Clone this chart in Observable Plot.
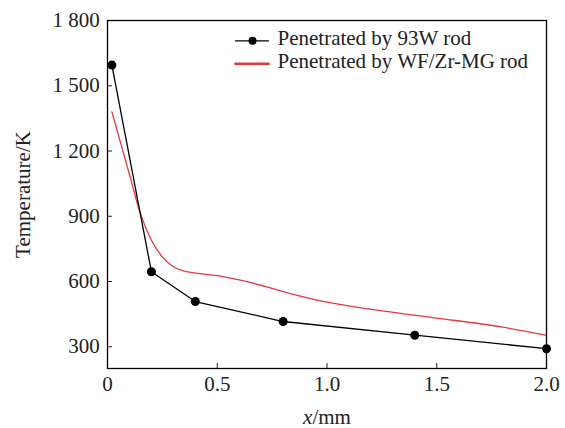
<!DOCTYPE html>
<html>
<head>
<meta charset="utf-8">
<script src="https://cdn.jsdelivr.net/npm/d3@7"></script>
<script src="https://cdn.jsdelivr.net/npm/@observablehq/plot@0.6"></script>
<style>
  html, body { margin: 0; padding: 0; background: #fff; }
  #chart svg { display: block; }
</style>
</head>
<body>
<div id="chart"></div>
<script>
// Series 1: penetrated by 93W rod (measured points)
const w93X = [0.02, 0.2, 0.4, 0.8, 1.4, 2.0];
const w93Y = [1595, 645, 508, 416, 353, 291];

// Series 2: penetrated by WF/Zr-MG rod (smooth curve)
const wfX = [0.02, 0.06, 0.1, 0.15, 0.2, 0.25, 0.3, 0.35, 0.4, 0.5, 0.6, 0.73, 0.8, 1.0, 1.26, 1.5, 1.8, 2.0];
const wfY = [1380, 1236, 1092, 912, 790, 713, 668, 648, 639, 627, 607, 574, 554, 505, 464, 432, 390, 352];

const yTicks = [300, 600, 900, 1200, 1500, 1800];
const xTicks = [0, 0.5, 1.0, 1.5, 2.0];
const xTickLabels = ["0", "0.5", "1.0", "1.5", "2.0"];
const legendLabels = ["Penetrated by 93W rod", "Penetrated by WF/Zr-MG rod"];
const colors = ["#000000", "#e23a3f"];

const w93 = w93X.map((x, i) => ({x, y: w93Y[i]}));
const wf = wfX.map((x, i) => ({x, y: wfY[i]}));

const fmtY = d => d >= 1000 ? d3.format(",")(d).replace(",", " ") : String(d);

const lineShape = { draw(ctx, l) { ctx.moveTo(0, 0); ctx.lineTo(0, -l); } };

function legendEntry(i, withDot, width) {
  const dy = 20.3 + i * 23;
  const marks = [
    Plot.vector([legendLabels[i]], { frameAnchor: "top-left", dx: 128, dy, rotate: 90, length: 33, anchor: "start", shape: lineShape, stroke: colors[i], strokeWidth: width }),
    Plot.text([legendLabels[i]], { frameAnchor: "top-left", dx: 170, dy: dy - 2.6, text: d => d, textAnchor: "start", lineAnchor: "middle", fontSize: 21, fill: "#222" })
  ];
  if (withDot) marks.push(Plot.dot([legendLabels[i]], { frameAnchor: "top-left", dx: 145, dy, r: 4, fill: colors[i] }));
  return marks;
}

const chart = Plot.plot({
  width: 565,
  height: 428,
  marginLeft: 107,
  marginRight: 19,
  marginTop: 20,
  marginBottom: 60,
  style: { fontFamily: "'Liberation Serif', 'Times New Roman', serif", fontSize: "21px", color: "#222", background: "#fff" },
  x: { domain: [0, 2], ticks: xTicks },
  y: { domain: [200, 1800], ticks: yTicks },
  marks: [
    Plot.axisX({ ticks: xTicks, tickSize: -5, tickPadding: 13, tickFormat: (d, i) => xTickLabels[i], fontSize: 21, label: "x/mm", labelAnchor: "center", labelArrow: "none", labelOffset: 55 }),
    Plot.axisY({ ticks: yTicks, tickSize: -5, tickPadding: 12.7, tickFormat: fmtY, fontSize: 21, label: "Temperature/K", labelAnchor: "center", labelArrow: "none", labelOffset: 92 }),
    Plot.line(wf, { x: "x", y: "y", stroke: colors[1], strokeWidth: 1.3, curve: "monotone-x" }),
    Plot.line(w93, { x: "x", y: "y", stroke: colors[0], strokeWidth: 1.3 }),
    Plot.dot(w93, { x: "x", y: "y", r: 4.5, fill: colors[0] }),
    Plot.frame({ stroke: "#000", strokeWidth: 1.3 }),
    ...legendEntry(0, true, 1.3),
    ...legendEntry(1, false, 2.6)
  ]
});

// italic x in the x-axis label
d3.select(chart).selectAll("text").each(function() {
  const t = d3.select(this);
  if (t.text() === "x/mm") {
    t.text(null);
    t.append("tspan").attr("font-style", "italic").text("x");
    t.append("tspan").text("/mm");
  }
});

document.getElementById("chart").appendChild(chart);
</script>
</body>
</html>
